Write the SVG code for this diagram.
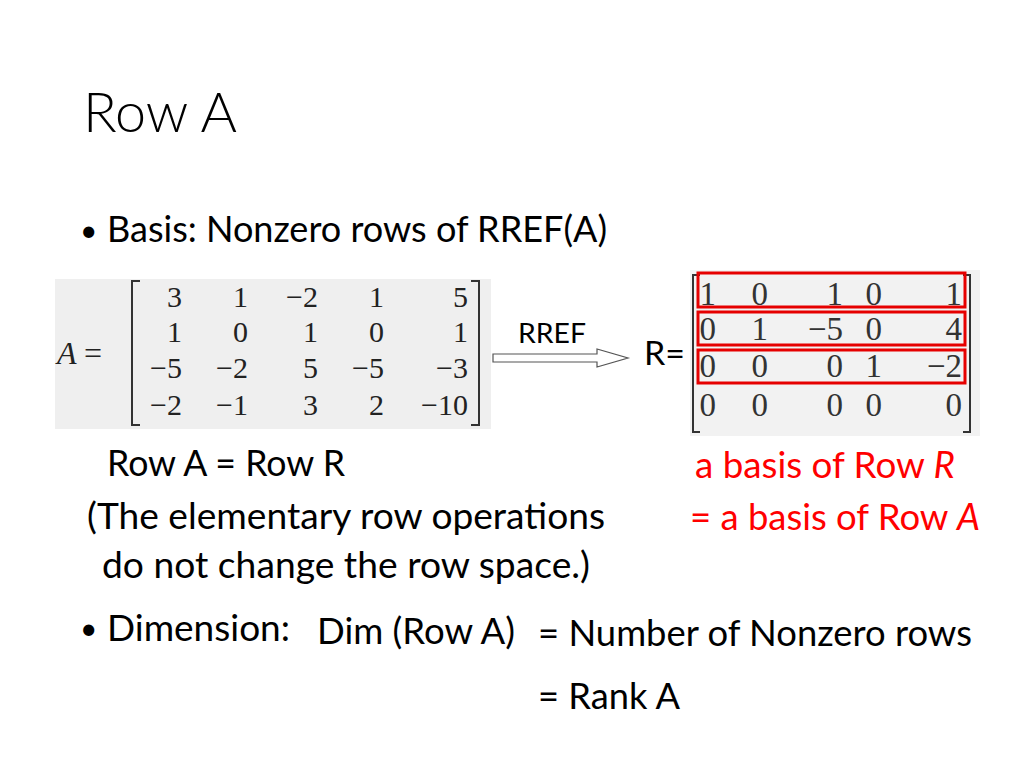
<svg xmlns="http://www.w3.org/2000/svg" width="1024" height="768" viewBox="0 0 1024 768">
<style>
.t{font-family:Lato,"Open Sans","Liberation Sans",sans-serif;fill:#000}
.b{font-size:36px}
.bu{font-size:30px}
.red{fill:#ff0000}
.m{font-family:"Liberation Serif","DejaVu Serif",serif;font-size:30px;fill:#222;text-anchor:end}
.mr{font-family:"Liberation Serif","DejaVu Serif",serif;font-size:33px;fill:#333;text-anchor:end}
.br{fill:none;stroke:#333;stroke-width:2}
.box{fill:none;stroke:#e60000;stroke-width:3}
</style>
<rect width="1024" height="768" fill="#fff"/>
<g id="title"><text class="t" x="83" y="132" font-size="56" font-weight="300" fill="#333" textLength="154" lengthAdjust="spacingAndGlyphs">Row A</text></g>
<g id="basis"><text class="t bu" x="80" y="241">•</text><text class="t b" x="107" y="242" textLength="500" lengthAdjust="spacingAndGlyphs">Basis: Nonzero rows of RREF(A)</text></g>
<g id="matrixA">
<rect x="55" y="279" width="436" height="150" fill="#efefef"/>
<text x="57" y="364" font-family="Liberation Serif,serif" font-size="32" font-style="italic" fill="#222">A</text>
<text x="84" y="364" font-family="Liberation Serif,serif" font-size="32" fill="#222">=</text>
<path class="br" d="M140,281 H132 V425 H140"/>
<path class="br" d="M471,281 H479 V425 H471"/>
<g>
<text class="m" x="182" y="307">3</text><text class="m" x="248" y="307">1</text><text class="m" x="318" y="307">−2</text><text class="m" x="384" y="307">1</text><text class="m" x="468" y="307">5</text>
<text class="m" x="182" y="342">1</text><text class="m" x="248" y="342">0</text><text class="m" x="318" y="342">1</text><text class="m" x="384" y="342">0</text><text class="m" x="468" y="342">1</text>
<text class="m" x="182" y="378">−5</text><text class="m" x="248" y="378">−2</text><text class="m" x="318" y="378">5</text><text class="m" x="384" y="378">−5</text><text class="m" x="468" y="378">−3</text>
<text class="m" x="182" y="415">−2</text><text class="m" x="248" y="415">−1</text><text class="m" x="318" y="415">3</text><text class="m" x="384" y="415">2</text><text class="m" x="468" y="415">−10</text>
</g>
</g>
<g id="connectors">
<polygon points="493,354 597,354 597,349 628,358 597,367 597,362 493,362" fill="#fff" stroke="#555" stroke-width="1.2"/>
<text class="t" x="518" y="343" font-size="27" textLength="68" lengthAdjust="spacingAndGlyphs">RREF</text>
</g>
<g id="matrixR">
<text class="t" x="644" y="365" font-size="32" textLength="41" lengthAdjust="spacingAndGlyphs">R=</text>
<rect x="690" y="270" width="290" height="166" fill="#f2f2f2"/>
<path class="br" d="M700,275 H693 V432 H700"/>
<path class="br" d="M963,275 H970 V432 H963"/>
<text class="mr" x="716" y="305">1</text><text class="mr" x="768" y="305">0</text><text class="mr" x="843" y="305">1</text><text class="mr" x="882" y="305">0</text><text class="mr" x="962" y="305">1</text>
<text class="mr" x="716" y="340">0</text><text class="mr" x="768" y="340">1</text><text class="mr" x="843" y="340">−5</text><text class="mr" x="882" y="340">0</text><text class="mr" x="962" y="340">4</text>
<text class="mr" x="716" y="377">0</text><text class="mr" x="768" y="377">0</text><text class="mr" x="843" y="377">0</text><text class="mr" x="882" y="377">1</text><text class="mr" x="962" y="377">−2</text>
<text class="mr" x="716" y="416">0</text><text class="mr" x="768" y="416">0</text><text class="mr" x="843" y="416">0</text><text class="mr" x="882" y="416">0</text><text class="mr" x="962" y="416">0</text>
<rect class="box" x="698" y="273" width="267" height="34"/>
<rect class="box" x="698" y="312" width="267" height="33"/>
<rect class="box" x="698" y="350" width="267" height="33"/>
</g>
<g id="rowEq"><text class="t b" x="107" y="476" textLength="238" lengthAdjust="spacingAndGlyphs">Row A = Row R</text></g>
<g id="note">
<text class="t b" x="87" y="529" textLength="518" lengthAdjust="spacingAndGlyphs">(The elementary row operations</text>
<text class="t b" x="102" y="578" textLength="488" lengthAdjust="spacingAndGlyphs">do not change the row space.)</text>
</g>
<g id="basisR"><text class="t b red" x="695" y="478" textLength="260" lengthAdjust="spacingAndGlyphs">a basis of Row <tspan font-style="italic">R</tspan></text></g>
<g id="basisA"><text class="t b red" x="690" y="530" textLength="290" lengthAdjust="spacingAndGlyphs">= a basis of Row <tspan font-style="italic">A</tspan></text></g>
<g id="dimension">
<text class="t bu" x="80" y="639">•</text><text class="t b" x="107" y="641" textLength="183" lengthAdjust="spacingAndGlyphs">Dimension:</text>
<text class="t b" x="317" y="644" textLength="198" lengthAdjust="spacingAndGlyphs">Dim (Row A)</text>
<text class="t b" x="538" y="646" textLength="434" lengthAdjust="spacingAndGlyphs">= Number of Nonzero rows</text>
<text class="t b" x="538" y="709" textLength="142" lengthAdjust="spacingAndGlyphs">= Rank A</text>
</g>
</svg>
